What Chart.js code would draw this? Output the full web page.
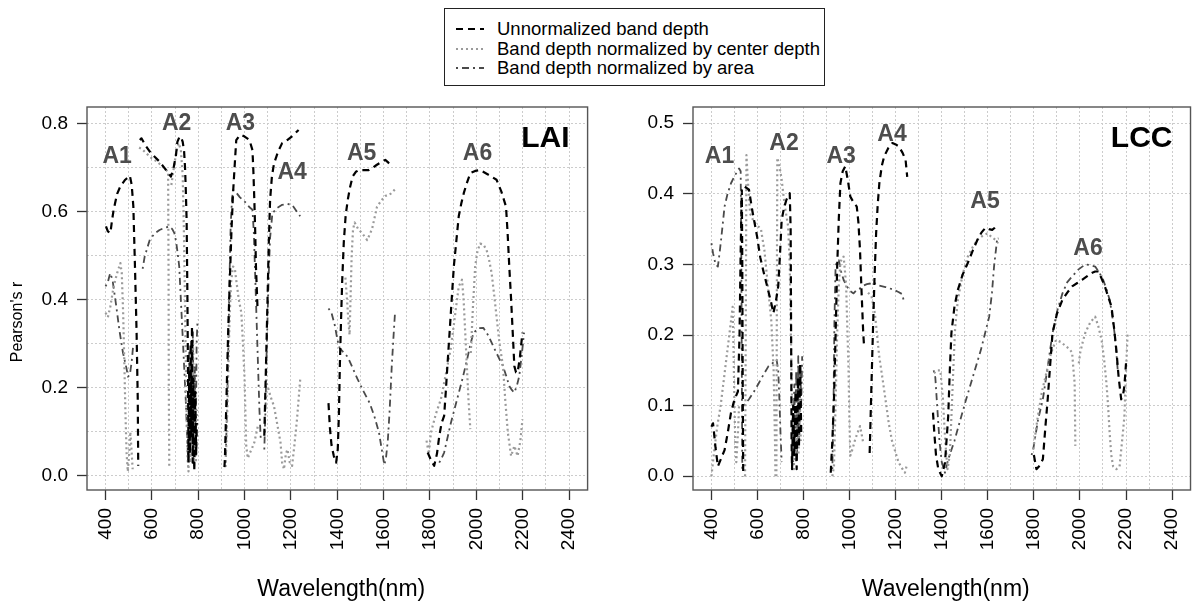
<!DOCTYPE html>
<html><head><meta charset="utf-8">
<script src="https://cdn.jsdelivr.net/npm/chart.js@4.4.0/dist/chart.umd.min.js"></script>
<style>
html,body{margin:0;padding:0;background:#fff;}
body{width:1203px;height:606px;overflow:hidden;position:relative;font-family:"Liberation Sans",Arial,sans-serif;}
#c1{position:absolute;left:0;top:0;}
#c2{position:absolute;left:600px;top:0;}
#legend{position:absolute;left:444px;top:8px;width:381px;height:78px;border:1px solid #222;box-sizing:border-box;background:#fff;}
#legend svg{position:absolute;left:11px;}
#legend span{position:absolute;left:52px;font-size:18.5px;line-height:20px;color:#000;white-space:nowrap;}
</style></head>
<body>
<canvas id="c1" width="600" height="606"></canvas>
<canvas id="c2" width="603" height="606"></canvas>
<div id="legend"></div>
<script>
// ---------------- DATA ----------------
const seriesNames = ['Unnormalized band depth','Band depth normalized by center depth','Band depth normalized by area'];
const xTickValues = [400,500,600,700,800,900,1000,1100,1200,1300,1400,1500,1600,1700,1800,1900,2000,2100,2200,2300,2400];
const laiYTicks = [0,0.1,0.2,0.3,0.4,0.5,0.6,0.7,0.8];
const lccYTicks = [0,0.1,0.2,0.3,0.4,0.5];

const laiUnnorm = [[402,.566],[410,.555],[421,.551],[428,.58],[435,.604],[450,.64],[464,.657],[485,.672],[505,.681],[513,.66],[520,.611],[527,.475],[534,.325],[539,.174],[541,.023],null,
[548,.762],[555,.766],[572,.75],[591,.736],[612,.724],[633,.713],[648,.703],[661,.694],[672,.686],[682,.679],[694,.70],[704,.728],[710,.758],[718,.768],[725,.77],[733,.758],[739,.736],[743,.70],[746,.654],[750,.577],[753,.42],[756,.22],[758,.03],[761,.24],[764,.05],[767,.30],[770,.09],[773,.34],[776,.03],[779,.22],[783,.01],[787,.19],[791,.05],[794,.12],null,
[913,.02],[915,.038],[922,.18],[929,.325],[936,.44],[943,.551],[950,.64],[957,.702],[964,.762],[975,.77],[985,.774],[1000,.77],[1021,.762],[1034,.739],[1038,.69],[1042,.626],[1046,.55],[1049,.475],[1053,.42],[1056,.377],null,
[1085,.091],[1090,.2],[1095,.31],[1099,.401],[1104,.52],[1110,.626],[1118,.68],[1127,.709],[1144,.735],[1162,.755],[1184,.762],[1208,.772],[1233,.785],null,
[1362,.165],[1368,.11],[1375,.07],[1385,.045],[1395,.03],[1402,.06],[1407,.14],[1411,.25],[1416,.35],[1421,.44],[1428,.53],[1436,.59],[1445,.626],[1455,.655],[1466,.679],[1480,.69],[1494,.694],[1515,.694],[1536,.694],[1555,.70],[1571,.706],[1590,.712],[1607,.717],[1618,.712],[1628,.706],null,
[1790,.053],[1805,.035],[1818,.023],[1830,.05],[1840,.09],[1850,.12],[1861,.136],[1868,.19],[1875,.249],[1882,.305],[1889,.362],[1896,.42],[1903,.476],[1914,.535],[1924,.589],[1935,.618],[1946,.642],[1960,.666],[1974,.687],[1995,.692],[2016,.694],[2050,.684],[2087,.672],[2108,.645],[2128,.611],[2135,.55],[2142,.476],[2150,.40],[2157,.325],[2164,.249],[2171,.235],[2178,.234],[2188,.27],[2199,.325]];

const laiCenter = [[400,.37],[410,.36],[421,.385],[435,.43],[450,.46],[464,.483],[470,.46],[476,.37],[481,.26],[486,.14],[491,.05],[496,.01],[502,.05],[507,.10],[512,.06],[517,.015],null,
[545,.745],[560,.74],[580,.73],[600,.72],[620,.714],[640,.705],[660,.695],[670,.69],[672,.45],[673,.20],[675,.02],null,
[684,.66],[695,.70],[705,.735],[715,.755],[725,.74],[733,.68],[738,.56],[742,.42],[746,.27],[750,.13],[754,.04],[758,.01],[762,.22],[766,.03],[770,.27],[774,.05],[778,.30],[782,.02],[786,.20],[790,.03],[795,.15],null,
[918,.02],[924,.12],[930,.25],[936,.37],[942,.44],[950,.475],[958,.47],[965,.44],[975,.40],[986,.37],[993,.30],[1000,.219],[1004,.13],[1007,.068],[1014,.04],[1021,.05],[1030,.06],[1042,.076],[1050,.095],[1057,.113],null,
[1095,.21],[1099,.204],[1112,.18],[1127,.158],[1140,.12],[1155,.076],[1162,.03],[1170,.015],[1178,.05],[1185,.06],[1195,.03],[1205,.023],[1215,.07],[1226,.128],[1234,.18],[1240,.219],null,
[1435,.45],[1442,.40],[1448,.35],[1453,.32],[1457,.40],[1462,.50],[1468,.56],[1475,.575],[1490,.56],[1508,.55],[1529,.535],[1550,.56],[1571,.61],[1590,.625],[1607,.635],[1630,.64],[1649,.65],null,
[1785,.08],[1795,.05],[1804,.098],[1825,.14],[1847,.174],[1868,.23],[1889,.287],[1907,.36],[1924,.43],[1938,.445],[1945,.40],[1952,.325],[1959,.25],[1966,.174],[1974,.106],null,
[1976,.279],[1985,.38],[1995,.476],[2005,.51],[2016,.527],[2030,.525],[2044,.513],[2055,.49],[2066,.46],[2077,.41],[2087,.362],[2100,.30],[2115,.249],[2125,.17],[2136,.098],[2150,.045],[2164,.068],[2178,.045],[2190,.08],[2199,.128]];

const laiArea = [[400,.43],[410,.44],[420,.46],[430,.445],[445,.39],[460,.33],[475,.28],[490,.245],[497,.225],[505,.23],[513,.26],[520,.30],null,
[560,.47],[569,.498],[591,.536],[612,.55],[633,.558],[655,.563],[675,.566],[688,.56],[697,.551],[705,.53],[711,.506],[718,.475],[725,.40],[732,.325],[739,.25],[746,.174],[752,.09],[757,.03],[761,.28],[765,.06],[769,.31],[773,.09],[777,.33],[781,.03],[785,.25],[789,.07],[793,.30],[797,.355],null,
[918,.03],[924,.15],[930,.30],[935,.45],[940,.57],[946,.63],[951,.649],[965,.642],[980,.632],[995,.625],[1007,.619],[1020,.61],[1034,.604],[1040,.55],[1046,.45],[1052,.35],[1058,.25],[1064,.15],[1070,.08],null,
[1085,.06],[1090,.15],[1095,.28],[1100,.38],[1105,.47],[1110,.54],[1120,.596],[1140,.608],[1162,.615],[1185,.617],[1205,.615],[1225,.60],[1240,.589],null,
[1362,.38],[1375,.37],[1390,.34],[1400,.31],[1410,.29],[1445,.27],[1487,.22],[1515,.19],[1540,.165],[1560,.135],[1580,.098],[1595,.05],[1603,.025],[1610,.04],[1618,.08],[1626,.15],[1635,.249],[1643,.32],[1649,.37],null,
[1840,.03],[1850,.04],[1861,.053],[1890,.12],[1917,.174],[1940,.22],[1960,.264],[1975,.30],[1988,.325],[2010,.335],[2030,.336],[2052,.318],[2073,.294],[2095,.27],[2115,.249],[2130,.225],[2142,.204],[2153,.195],[2164,.189],[2175,.205],[2185,.226],[2197,.28],[2206,.325]];

const lccUnnorm = [[400,.07],[407,.075],[418,.04],[428,.014],[442,.025],[457,.037],[470,.06],[485,.09],[497,.105],[506,.113],[515,.12],[522,.20],[527,.32],[532,.405],[534,.30],[536,.12],[538,.0],null,
[545,.41],[563,.406],[577,.377],[598,.34],[612,.31],[626,.29],[645,.265],[660,.245],[669,.231],[680,.248],[690,.269],[697,.31],[705,.363],[715,.38],[726,.392],[740,.401],[744,.35],[746,.20],[748,.05],[750,.01],[755,.10],[760,.03],[765,.12],[770,.01],[776,.14],[780,.04],[785,.16],[790,.06],null,
[918,.005],[925,.05],[932,.109],[939,.20],[946,.297],[953,.365],[960,.415],[970,.432],[981,.439],[992,.42],[1003,.396],[1017,.388],[1031,.382],[1038,.36],[1045,.321],[1052,.26],[1059,.203],[1062,.188],null,
[1087,.033],[1094,.12],[1101,.203],[1108,.28],[1115,.344],[1122,.385],[1129,.415],[1140,.44],[1150,.453],[1168,.465],[1186,.472],[1200,.47],[1214,.467],[1230,.458],[1243,.448],[1250,.424],null,
[1362,.09],[1368,.06],[1375,.03],[1385,.01],[1400,.0],[1414,.019],[1428,.085],[1435,.15],[1442,.203],[1455,.24],[1470,.264],[1490,.285],[1513,.302],[1535,.32],[1555,.335],[1572,.345],[1590,.352],[1605,.35],[1619,.349],[1630,.352],[1640,.356],null,
[1800,.03],[1811,.01],[1825,.015],[1839,.024],[1850,.07],[1860,.109],[1870,.155],[1881,.203],[1900,.23],[1924,.25],[1945,.26],[1966,.269],[1990,.274],[2009,.278],[2030,.283],[2051,.288],[2066,.29],[2080,.29],[2094,.28],[2108,.269],[2122,.255],[2137,.24],[2148,.21],[2158,.179],[2168,.14],[2179,.109],[2187,.115],[2193,.128],[2200,.16]];

const lccCenter = [[400,.0],[410,.03],[425,.07],[440,.10],[455,.14],[470,.18],[485,.22],[492,.24],[496,.18],[500,.10],[504,.04],[508,.02],[515,.06],[520,.10],null,
[546,.0],[549,.20],[552,.455],[558,.42],[568,.372],[585,.36],[600,.355],[615,.35],[630,.32],[645,.27],[660,.22],[670,.15],[676,.05],[678,.0],null,
[682,.0],[684,.25],[686,.451],[695,.44],[705,.42],[712,.40],[720,.38],[733,.354],[740,.30],[745,.20],[750,.10],[754,.02],[758,.01],[763,.08],[768,.02],[773,.10],[778,.03],[783,.12],[788,.05],null,
[925,.0],[932,.014],[939,.10],[946,.203],[953,.27],[960,.302],[967,.31],[974,.311],[980,.29],[985,.269],[990,.21],[995,.156],[999,.08],[1003,.029],[1014,.04],[1024,.052],[1035,.062],[1045,.071],[1052,.06],[1059,.047],null,
[1080,.26],[1095,.255],[1110,.23],[1128,.171],[1142,.14],[1156,.108],[1170,.075],[1184,.05],[1198,.035],[1212,.02],[1226,.012],[1240,.005],[1248,.015],null,
[1366,.146],[1380,.15],[1394,.15],[1405,.11],[1415,.05],[1425,.01],[1435,.03],[1442,.085],[1450,.15],[1458,.21],[1470,.25],[1490,.285],[1513,.311],[1535,.325],[1555,.335],[1575,.34],[1598,.344],[1620,.338],[1633,.335],[1647,.337],null,
[1797,.038],[1815,.08],[1835,.12],[1854,.146],[1875,.175],[1896,.193],[1918,.19],[1939,.184],[1955,.18],[1966,.175],[1972,.15],[1977,.132],[1980,.043],null,
[1995,.16],[2001,.175],[2012,.19],[2023,.203],[2045,.218],[2066,.226],[2080,.212],[2094,.193],[2105,.165],[2115,.132],[2122,.10],[2129,.061],[2136,.03],[2144,.014],[2158,.01],[2172,.014],[2183,.05],[2193,.085],[2200,.15],[2207,.203]];

const lccArea = [[400,.33],[407,.316],[418,.30],[428,.297],[435,.315],[442,.335],[450,.36],[457,.382],[470,.40],[485,.415],[500,.425],[520,.436],[527,.432],[530,.30],[532,.15],[534,.01],null,
[540,.10],[563,.109],[585,.12],[606,.132],[628,.145],[648,.156],[665,.16],[683,.165],[690,.15],[695,.11],[700,.06],[705,.02],null,
[755,.02],[760,.13],[764,.04],[768,.15],[772,.03],[777,.17],[781,.05],[786,.16],[790,.10],[794,.17],null,
[925,.01],[930,.10],[934,.22],[939,.297],[946,.305],[953,.306],[963,.29],[974,.278],[988,.269],[1003,.262],[1017,.259],[1031,.264],[1045,.266],[1060,.27],[1075,.272],[1090,.273],[1100,.275],[1128,.27],[1156,.268],[1184,.265],[1212,.261],[1228,.258],[1234,.25],[1240,.245],null,
[1365,.15],[1372,.14],[1380,.10],[1390,.05],[1400,.02],[1414,.005],[1428,.024],[1455,.05],[1485,.085],[1505,.108],[1527,.132],[1548,.155],[1570,.179],[1590,.205],[1606,.226],[1618,.26],[1627,.297],[1635,.32],[1640,.335],[1645,.33],null,
[1790,.03],[1797,.038],[1818,.08],[1839,.109],[1860,.155],[1881,.203],[1902,.235],[1924,.259],[1945,.275],[1966,.283],[1994,.293],[2023,.30],[2045,.299],[2066,.297],[2085,.288],[2101,.278],[2115,.265],[2129,.25],[2140,.228],[2150,.203],[2158,.175],[2165,.146]];

// Feature annotations (label text and anchor in data units)
const featureNames = ['A1','A2','A3','A4','A5','A6'];
const laiFeatureX = [450,707,982,1205,1505,2005];
const laiFeatureY = [0.7245,0.80,0.80,0.687,0.732,0.732];
const lccFeatureX = [435,715,963,1184,1588,2035];
const lccFeatureY = [0.453,0.4716,0.453,0.4835,0.389,0.323];

// ---------------- RENDER ----------------
const FONT = '"Liberation Sans", Arial, sans-serif';
const styles = [
  {color:'#000000', width:2.2, dash:[7,5]},
  {color:'#9a9a9a', width:2.2, dash:[2,3]},
  {color:'#4a4a4a', width:1.8, dash:[2,4,7,4]}
];

function toPoints(arr){
  const out=[];
  arr.forEach((p,i)=>{
    if(p===null){ out.push({x:arr[i-1][0]+0.5, y:null}); }
    else out.push({x:p[0], y:p[1]});
  });
  return out;
}

function makePanel(canvasId, cfg){
  const datasets = cfg.series.map((s,i)=>({
    label: seriesNames[i],
    data: toPoints(s),
    borderColor: styles[i].color,
    borderWidth: styles[i].width,
    borderDash: styles[i].dash,
    borderCapStyle:'butt',
    borderJoinStyle:'round',
    pointRadius:0,
    fill:false,
    tension:0,
    spanGaps:false,
    order: [1,2,3][i]
  }));
  const decor = {
    id:'decor',
    afterDraw(chart){
      const ctx = chart.ctx, a = chart.chartArea, xs = chart.scales.x, ys = chart.scales.y;
      ctx.save();
      ctx.strokeStyle = '#555'; ctx.lineWidth = 1.4; ctx.setLineDash([]);
      ctx.strokeRect(a.left, a.top, a.right-a.left, a.bottom-a.top);
      ctx.font = 'bold 23px '+FONT; ctx.fillStyle = '#4d4d4d';
      ctx.textAlign='center'; ctx.textBaseline='middle';
      featureNames.forEach((n,i)=>{
        ctx.fillText(n, xs.getPixelForValue(cfg.fx[i]), ys.getPixelForValue(cfg.fy[i]));
      });
      ctx.font = 'bold 30px '+FONT; ctx.fillStyle='#000';
      ctx.textAlign='right'; ctx.textBaseline='alphabetic';
      ctx.fillText(cfg.panel, a.right-18, a.top+40);
      ctx.font = '23px '+FONT; ctx.textAlign='center'; ctx.textBaseline='middle';
      ctx.fillText('Wavelength(nm)', (a.left+a.right)/2+4, 590);
      if(cfg.ytitle){
        ctx.save();
        ctx.translate(18, 322); ctx.rotate(-Math.PI/2);
        ctx.font = '16px '+FONT; ctx.textAlign='center'; ctx.textBaseline='middle';
        ctx.fillText(cfg.ytitle, 0, 0);
        ctx.restore();
      }
      ctx.restore();
    }
  };
  return new Chart(document.getElementById(canvasId), {
    type:'line',
    data:{datasets},
    options:{
      responsive:false, animation:false, devicePixelRatio:1,
      layout:{padding:{top:107, right:cfg.padRight, left:0, bottom:0}},
      plugins:{legend:{display:false}, tooltip:{enabled:false}},
      scales:{
        x:{type:'linear', min:320, max:2480,
          afterBuildTicks:s=>{ s.ticks = xTickValues.map(v=>({value:v})); },
          afterFit:s=>{ s.height = 116; },
          ticks:{autoSkip:false, minRotation:90, maxRotation:90, padding:8, color:'#000',
            font:{size:19, family:FONT},
            callback:v=> (v%200===0 ? String(v) : '')},
          grid:{color:'#cccccc', lineWidth:1, tickLength:10, tickWidth:1.3,
            tickColor: c => (c.tick && c.tick.value%200===0 ? '#333' : 'rgba(0,0,0,0)')},
          border:{display:false, dash:[2,2]}
        },
        y:{type:'linear', min:cfg.ymin, max:cfg.ymax,
          afterBuildTicks:s=>{ s.ticks = cfg.yticks.map(v=>({value:v})); },
          afterFit:s=>{ s.width = cfg.yWidth; },
          ticks:{autoSkip:false, padding:9, color:'#000', font:{size:19, family:FONT},
            callback:v=> (cfg.ylab(v) ? v.toFixed(1) : '')},
          grid:{color:'#cccccc', lineWidth:1, tickLength:10, tickWidth:1.3,
            tickColor: c => (c.tick && cfg.ylab(c.tick.value) ? '#333' : 'rgba(0,0,0,0)')},
          border:{display:false, dash:[2,2]}
        }
      }
    },
    plugins:[decor]
  });
}

makePanel('c1', {series:[laiUnnorm, laiCenter, laiArea], panel:'LAI', ytitle:"Pearson's r",
  fx:laiFeatureX, fy:laiFeatureY, ymin:-0.032, ymax:0.837, yticks:laiYTicks,
  ylab:v=>Math.round(v*10)%2===0, yWidth:87, padRight:4});
makePanel('c2', {series:[lccUnnorm, lccCenter, lccArea], panel:'LCC', ytitle:null,
  fx:lccFeatureX, fy:lccFeatureY, ymin:-0.0195, ymax:0.523, yticks:lccYTicks,
  ylab:v=>true, yWidth:93, padRight:3});

const leg = document.getElementById('legend');
const rowsY = [20, 40, 59];
seriesNames.forEach((n,i)=>{
  const svg = document.createElementNS('http://www.w3.org/2000/svg','svg');
  svg.setAttribute('width','30'); svg.setAttribute('height','6');
  svg.style.top = (rowsY[i]-3)+'px';
  const ln = document.createElementNS('http://www.w3.org/2000/svg','line');
  ln.setAttribute('x1','0'); ln.setAttribute('y1','3'); ln.setAttribute('x2','28'); ln.setAttribute('y2','3');
  ln.setAttribute('stroke', styles[i].color); ln.setAttribute('stroke-width', styles[i].width);
  ln.setAttribute('stroke-dasharray', styles[i].dash.join(' '));
  svg.appendChild(ln); leg.appendChild(svg);
  const sp = document.createElement('span');
  sp.textContent = n; sp.style.top = (rowsY[i]-10)+'px';
  leg.appendChild(sp);
});
</script>
</body></html>
